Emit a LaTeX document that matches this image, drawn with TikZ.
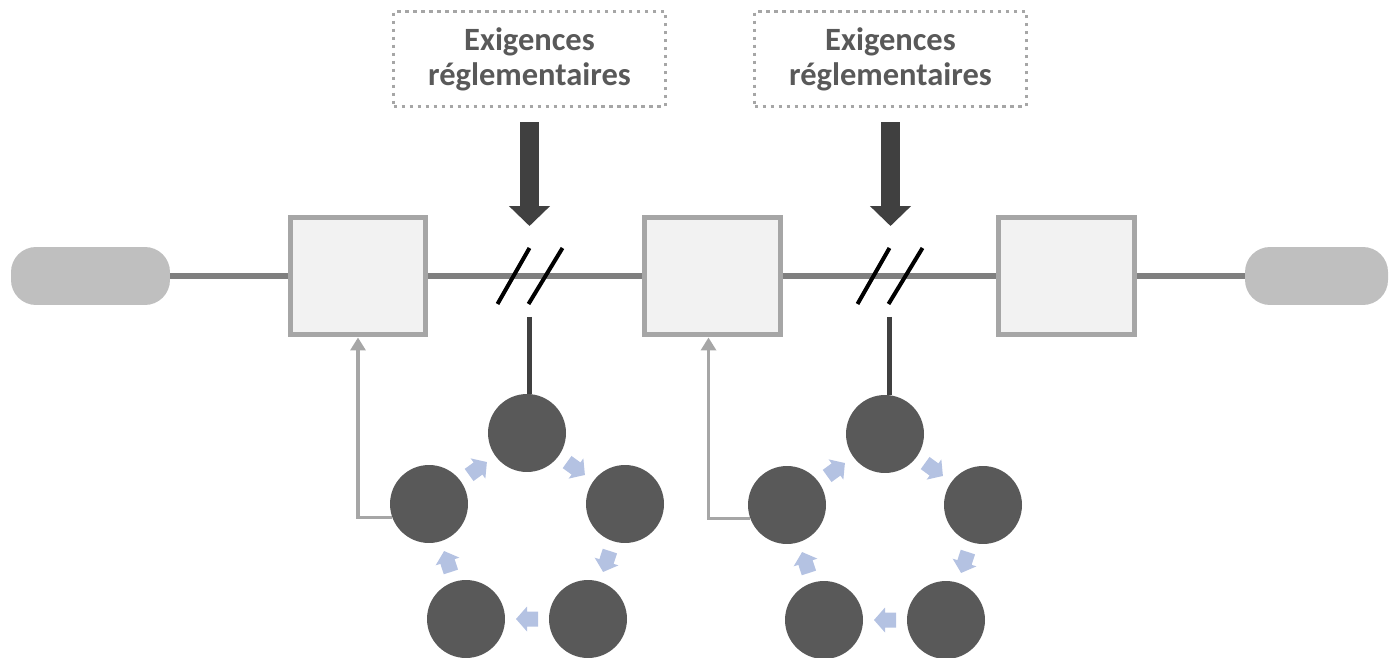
\documentclass[tikz,border=0pt]{standalone}
\usepackage{fontspec}
\setmainfont{Carlito}
\usetikzlibrary{arrows.meta,calc}
\definecolor{linegray}{HTML}{7F7F7F}
\definecolor{edgegray}{HTML}{A6A6A6}
\definecolor{boxfill}{HTML}{F2F2F2}
\definecolor{pillgray}{HTML}{BFBFBF}
\definecolor{pushgray}{HTML}{404040}
\definecolor{stagegray}{HTML}{595959}
\definecolor{textgray}{HTML}{595959}
\definecolor{spinblue}{HTML}{B4C2E2}
\begin{document}
\begin{tikzpicture}[x=0.02cm,y=0.02cm,
		pill/.style={fill=pillgray,rounded corners=0.5cm,minimum height=1.16cm,inner sep=0pt},
		phase/.style={draw=edgegray,line width=0.1cm,fill=boxfill,minimum width=2.72cm,minimum height=2.36cm,inner sep=0pt},
		reqbox/.style={draw=edgegray,line width=0.07cm,dash pattern=on 0.07cm off 0.09cm,minimum width=5.44cm,minimum height=1.9cm,text=textgray,font=\bfseries\fontsize{18.5}{20}\selectfont,align=center},
		stage/.style={circle,fill=stagegray,minimum size=1.56cm,inner sep=0pt},
		mainline/.style={draw=linegray,line width=0.11cm},
		slash/.style={draw=black,line width=0.08cm},
		push/.style={draw=pushgray,line width=0.37cm,shorten <=0.28cm,shorten >=1cm,-{Triangle[length=0.4cm,width=0.8cm]}},
		link/.style={draw=pushgray,line width=0.1cm},
		feedback/.style={draw=edgegray,line width=0.07cm,-{Triangle[length=0.26cm,width=0.3cm]}},
		spin/.pic={\fill[spinblue] (-11,-7.5)--(0,-7.5)--(0,-12.5)--(11,0)--(0,12.5)--(0,7.5)--(-11,7.5)--cycle;}]
		\useasboundingbox (0,0) rectangle (1389,-658);
		% main line
		\node[pill,minimum width=3.18cm] (p1) at (90.5,-276) {};
		\node[pill,minimum width=2.86cm] (p2) at (1316.5,-276) {};
		\node[phase] (b1) at (358,-276) {};
		\node[phase] (b2) at (712.5,-276) {};
		\node[phase] (b3) at (1066.5,-276) {};
		\coordinate (cut1) at (529.5,-276);
		\coordinate (cut2) at (889.5,-276);
		\draw[mainline] (p1)--(b1) (b1)--(b2) (b2)--(b3) (b3)--(p2);
		\draw[slash] ($(cut1)+(-32,-28)$)--($(cut1)+(0,28)$);
		\draw[slash] ($(cut1)+(-1,-28)$)--($(cut1)+(33,28)$);
		\draw[slash] ($(cut2)+(-32,-28)$)--($(cut2)+(0,28)$);
		\draw[slash] ($(cut2)+(-1,-28)$)--($(cut2)+(33,28)$);
		% requirements
		\node[reqbox] (req1) at (529.5,-59) {Exigences\\réglementaires};
		\node[reqbox] (req2) at (890.5,-59) {Exigences\\réglementaires};
		\draw[push] (req1.south)--(req1.south |- cut1);
		\draw[push] (req2.south)--(req2.south |- cut2);
		% first cycle
		\node[stage] (s11) at (527,-433) {};
		\node[stage] (s12) at (625,-504) {};
		\node[stage] (s13) at (588,-619) {};
		\node[stage] (s14) at (466,-619) {};
		\node[stage] (s15) at (429,-504) {};
		\pic[rotate=-36] at ($(s11)!0.5!(s12)$) {spin};
		\pic[rotate=-108] at ($(s12)!0.5!(s13)$) {spin};
		\pic[rotate=180] at ($(s13)!0.5!(s14)$) {spin};
		\pic[rotate=108] at ($(s14)!0.5!(s15)$) {spin};
		\pic[rotate=36] at ($(s15)!0.5!(s11)$) {spin};
		\draw[link] ([yshift=-0.82cm]cut1)--(cut1 |- s11.north);
		\draw[feedback] (s15.200) -| (b1.south);
		% second cycle
		\node[stage] (s21) at (885,-434) {};
		\node[stage] (s22) at (983,-505) {};
		\node[stage] (s23) at (946,-620) {};
		\node[stage] (s24) at (824,-620) {};
		\node[stage] (s25) at (787,-505) {};
		\pic[rotate=-36] at ($(s21)!0.5!(s22)$) {spin};
		\pic[rotate=-108] at ($(s22)!0.5!(s23)$) {spin};
		\pic[rotate=180] at ($(s23)!0.5!(s24)$) {spin};
		\pic[rotate=108] at ($(s24)!0.5!(s25)$) {spin};
		\pic[rotate=36] at ($(s25)!0.5!(s21)$) {spin};
		\draw[link] ([yshift=-0.82cm]cut2)--(cut2 |- s21.north);
		\draw[feedback] (s25.200) -| ([xshift=-0.08cm]b2.south);
	\end{tikzpicture}
\end{document}
